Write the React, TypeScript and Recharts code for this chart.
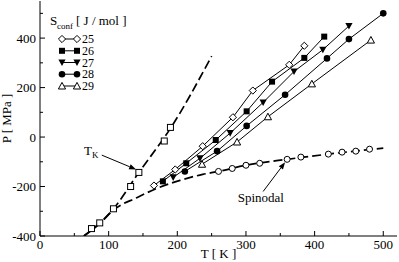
import React from 'react';
import { ComposedChart, Line, XAxis, YAxis, ReferenceLine, ReferenceDot } from 'recharts';

const FONT = '"Liberation Serif", "Times New Roman", serif';

// isotherms of constant configurational entropy, S_conf in J/mol
const t25 = [166, 197, 237, 281, 310, 363, 385];
const p25 = [-196, -131, -37, 80, 188, 292, 369];
const t26 = [179, 213, 256, 301, 338, 385, 414];
const p26 = [-179, -106, -12, 104, 224, 320, 406];
const t27 = [194, 233, 277, 325, 370, 412, 450];
const p27 = [-163, -86, 16, 140, 265, 353, 449];
const t28 = [211, 258, 301, 357, 418, 450, 500];
const p28 = [-139, -57, 45, 171, 318, 396, 500];
const t29 = [236, 287, 332, 396, 482];
const p29 = [-110, -20, 82, 215, 392];

// Kauzmann temperature points and the dashed guide through them
const tKauz = [75, 87, 107, 132, 144, 181, 190];
const pKauz = [-370, -347, -290, -200, -143, -16, 39];
const tKauzLine = [64, 107, 144, 190, 250];
const pKauzLine = [-400, -290, -143, 35, 327];

// spinodal points and dashed guide
const tSpin = [260, 280, 300, 320, 360, 380, 420, 440, 460, 480];
const pSpin = [-139, -127, -114, -106, -90, -81, -69, -61, -57, -49];
const tSpinLine = [64, 87, 107, 141, 170, 204, 237, 260, 300, 360, 420, 500];
const pSpinLine = [-400, -350, -295, -245, -208, -175, -151, -139, -114, -90, -69, -45];

const xTicks = [0, 50, 100, 150, 200, 250, 300, 350, 400, 450, 500];
const yTicks = [-400, -300, -200, -100, 0, 100, 200, 300, 400, 500];

const zip = (t: number[], p: number[]) => t.map((T, i) => ({ T, P: p[i] }));

const series = [
  { name: '25', kind: 'diamond', data: zip(t25, p25) },
  { name: '26', kind: 'square', data: zip(t26, p26) },
  { name: '27', kind: 'triDown', data: zip(t27, p27) },
  { name: '28', kind: 'circle', data: zip(t28, p28) },
  { name: '29', kind: 'triUp', data: zip(t29, p29) },
];

const Marker = ({ kind, cx, cy }: { kind: string; cx: number; cy: number }) => {
  switch (kind) {
    case 'diamond':
      return <polygon points={`${cx},${cy - 3.6} ${cx + 3.6},${cy} ${cx},${cy + 3.6} ${cx - 3.6},${cy}`} fill="#fff" stroke="#000" strokeWidth={1} />;
    case 'square':
      return <rect x={cx - 3} y={cy - 3} width={6} height={6} fill="#000" />;
    case 'triDown':
      return <polygon points={`${cx - 3.6},${cy - 3} ${cx + 3.6},${cy - 3} ${cx},${cy + 3.6}`} fill="#000" />;
    case 'circle':
      return <circle cx={cx} cy={cy} r={3.3} fill="#000" />;
    case 'triUp':
      return <polygon points={`${cx},${cy - 3.6} ${cx + 3.6},${cy + 3} ${cx - 3.6},${cy + 3}`} fill="#fff" stroke="#000" strokeWidth={1} />;
    case 'openSquare':
      return <rect x={cx - 3} y={cy - 3} width={6} height={6} fill="#fff" stroke="#000" strokeWidth={1} />;
    case 'openCircle':
      return <circle cx={cx} cy={cy} r={3} fill="#fff" stroke="#000" strokeWidth={1} />;
    default:
      return null;
  }
};

const dotOf = (kind: string) => (p: any) =>
  <Marker key={`${kind}-${p.index}`} kind={kind} cx={p.cx} cy={p.cy} />;

const BottomTick = (props: any) => {
  const { x, y, payload } = props;
  const major = payload.value % 100 === 0;
  return (
    <g>
      <line x1={x} x2={x} y1={y} y2={y - (major ? 5 : 3)} stroke="#000" />
      {major && (
        <text x={x} y={y + 12.5} textAnchor="middle" fontSize={13} fontFamily={FONT} fill="#000">
          {payload.value}
        </text>
      )}
    </g>
  );
};

const TopTick = (props: any) => {
  const { x, y, payload } = props;
  const major = payload.value % 100 === 0;
  return <line x1={x} x2={x} y1={y} y2={y + (major ? 5 : 3)} stroke="#000" />;
};

const LeftTick = (props: any) => {
  const { x, y, payload } = props;
  const major = payload.value % 200 === 0;
  return (
    <g>
      <line x1={x} x2={x + (major ? 5 : 3)} y1={y} y2={y} stroke="#000" />
      {major && (
        <text x={x - 4} y={y + 4.5} textAnchor="end" fontSize={13} fontFamily={FONT} fill="#000">
          {payload.value}
        </text>
      )}
    </g>
  );
};

const RightTick = (props: any) => {
  const { x, y, payload } = props;
  const major = payload.value % 200 === 0;
  return <line x1={x} x2={x - (major ? 5 : 3)} y1={y} y2={y} stroke="#000" />;
};

const Arrow = (p: any) => {
  const { x1, y1, x2, y2 } = p;
  const a = Math.atan2(y2 - y1, x2 - x1);
  const L = 7, W = 2.6;
  const bx = x2 - L * Math.cos(a), by = y2 - L * Math.sin(a);
  const pts = `${x2},${y2} ${bx - W * Math.sin(a)},${by + W * Math.cos(a)} ${bx + W * Math.sin(a)},${by - W * Math.cos(a)}`;
  return (
    <g>
      <line x1={x1} y1={y1} x2={bx} y2={by} stroke="#000" strokeWidth={1} />
      <polygon points={pts} fill="#000" />
    </g>
  );
};

const legendRows = [39, 50.8, 62.5, 74.2, 86];

export default function App() {
  return (
    <div style={{ position: 'relative', width: 399, height: 262, background: '#fff' }}>
      <style>{'body{margin:0;background:#fff}'}</style>
      <ComposedChart width={399} height={262} margin={{ top: 1, right: 2, bottom: 0, left: 0 }}>
        <XAxis
          dataKey="T" type="number" domain={[0, 520]} ticks={xTicks} interval={0}
          tickLine={false} tickSize={0} tickMargin={0} tick={BottomTick} height={26}
          stroke="#000" allowDataOverflow
          label={{ value: 'T [ K ]', position: 'insideBottom', offset: 4, fontSize: 13, fontFamily: FONT, fill: '#000' }}
        />
        <XAxis
          xAxisId="top" orientation="top" type="number" domain={[0, 520]} ticks={xTicks} interval={0}
          tickLine={false} tickSize={0} tickMargin={0} tick={TopTick} height={0} stroke="#000" allowDataOverflow
        />
        <YAxis
          dataKey="P" type="number" domain={[-400, 550]} ticks={yTicks} interval={0}
          tickLine={false} tickSize={0} tickMargin={0} tick={LeftTick} width={40} stroke="#000" allowDataOverflow
          label={{
            content: (p: any) => {
              const vb = p.viewBox;
              const cx = vb.x + 11;
              const cy = vb.y + vb.height / 2;
              return (
                <text x={cx} y={cy} transform={`rotate(-90 ${cx} ${cy})`} textAnchor="middle" fontSize={13} fontFamily={FONT} fill="#000">
                  P [ MPa ]
                </text>
              );
            },
          }}
        />
        <YAxis
          yAxisId="right" orientation="right" type="number" domain={[-400, 550]} ticks={yTicks} interval={0}
          tickLine={false} tickSize={0} tickMargin={0} tick={RightTick} width={0} stroke="#000" allowDataOverflow
        />

        <Line data={zip(tKauzLine, pKauzLine)} dataKey="P" type="monotone" stroke="#000" strokeWidth={1.7}
          strokeDasharray="9 4" dot={false} activeDot={false} isAnimationActive={false} />
        <Line data={zip(tSpinLine, pSpinLine)} dataKey="P" type="monotone" stroke="#000" strokeWidth={1.7}
          strokeDasharray="9 4" dot={false} activeDot={false} isAnimationActive={false} />

        {series.map((s) => (
          <Line key={s.name} data={s.data} dataKey="P" type="linear" stroke="#000" strokeWidth={1}
            dot={dotOf(s.kind)} activeDot={false} isAnimationActive={false} />
        ))}

        <Line data={zip(tKauz, pKauz)} dataKey="P" stroke="none" dot={dotOf('openSquare')}
          activeDot={false} isAnimationActive={false} />
        <Line data={zip(tSpin, pSpin)} dataKey="P" stroke="none" dot={dotOf('openCircle')}
          activeDot={false} isAnimationActive={false} />

        <ReferenceLine segment={[{ x: 90, y: -73 }, { x: 140, y: -131 }]} shape={Arrow} />
        <ReferenceLine segment={[{ x: 325, y: -220 }, { x: 357, y: -102 }]} shape={Arrow} />
        <ReferenceDot x={64} y={-73} r={0} shape={(p: any) => (
          <text x={p.cx} y={p.cy} fontSize={13} fontFamily={FONT} fill="#000">
            T<tspan fontSize={9} dy={3}>K</tspan>
          </text>
        )} />
        <ReferenceDot x={288} y={-261} r={0} shape={(p: any) => (
          <text x={p.cx} y={p.cy} fontSize={13} fontFamily={FONT} fill="#000">Spinodal</text>
        )} />
      </ComposedChart>

      <svg width={399} height={262} style={{ position: 'absolute', left: 0, top: 0, pointerEvents: 'none' }}>
        <text x={50} y={25} fontSize={13} fontFamily={FONT} fill="#000">S</text>
        <text x={57} y={28.5} fontSize={9} fontFamily={FONT} fill="#000">conf</text>
        <text x={76} y={25} fontSize={13} fontFamily={FONT} fill="#000">[ J / mol ]</text>
        {series.map((s, i) => {
          const cy = legendRows[i];
          return (
            <g key={s.name}>
              <line x1={62} x2={77} y1={cy} y2={cy} stroke="#000" strokeWidth={1} />
              <Marker kind={s.kind} cx={62} cy={cy} />
              <Marker kind={s.kind} cx={77} cy={cy} />
              <text x={82} y={cy + 4} fontSize={12} fontFamily={FONT} fill="#000">{s.name}</text>
            </g>
          );
        })}
      </svg>
    </div>
  );
}
